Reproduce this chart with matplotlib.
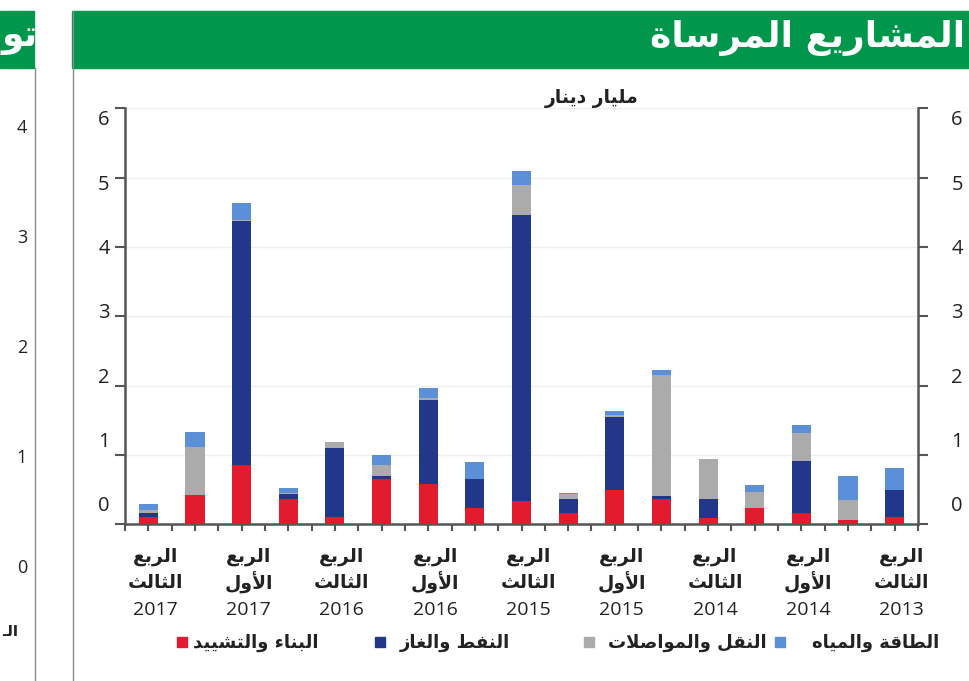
import matplotlib
matplotlib.use("Agg")
import matplotlib.pyplot as plt
from matplotlib.patches import Rectangle
from matplotlib.lines import Line2D
from matplotlib.transforms import ScaledTranslation
import numpy as np

# ---------------- data (chronological: 2013Q3 ... 2017Q3) ----------------
quarters = ["2013Q3", "2013Q4", "2014Q1", "2014Q2", "2014Q3", "2014Q4",
            "2015Q1", "2015Q2", "2015Q3", "2015Q4", "2016Q1", "2016Q2",
            "2016Q3", "2016Q4", "2017Q1", "2017Q2", "2017Q3"]
construction = [0.11, 0.06, 0.17, 0.23, 0.09, 0.36, 0.50, 0.17, 0.33, 0.24,
                0.58, 0.66, 0.10, 0.37, 0.85, 0.42, 0.10]
oil_gas = [0.39, 0.00, 0.74, 0.00, 0.27, 0.05, 1.05, 0.19, 4.13, 0.41,
           1.21, 0.03, 1.00, 0.07, 3.52, 0.00, 0.06]
transport = [0.00, 0.29, 0.40, 0.23, 0.58, 1.74, 0.02, 0.07, 0.43, 0.00,
             0.03, 0.16, 0.08, 0.01, 0.02, 0.70, 0.04]
power_water = [0.31, 0.34, 0.12, 0.11, 0.00, 0.07, 0.06, 0.02, 0.21, 0.25,
               0.14, 0.15, 0.00, 0.08, 0.24, 0.21, 0.09]

series_names = ["البناء والتشييد", "النفط والغاز", "النقل والمواصلات", "الطاقة والمياه"]
series_colors = ["#E31B2F", "#22368A", "#ABABAB", "#5B8FD8"]

tick_line1 = "الربع"
tick_line2 = ["الثالث", "الأول", "الثالث", "الأول", "الثالث", "الأول", "الثالث", "الأول", "الثالث"]
tick_years = ["2013", "2014", "2014", "2015", "2015", "2016", "2016", "2017", "2017"]
yticks = [0, 1, 2, 3, 4, 5, 6]

title = "المشاريع المرساة"
unit_label = "مليار دينار"
side_title = "تو"
side_ticks = ["4", "3", "2", "1", "0"]
side_bottom = "الـ"

# ---------------- minimal Arabic shaping (presentation forms + RTL) -------
_four = {'\u0626': 0xFE89, '\u0628': 0xFE8F, '\u062A': 0xFE95, '\u062B': 0xFE99,
         '\u062C': 0xFE9D, '\u062D': 0xFEA1, '\u062E': 0xFEA5, '\u0633': 0xFEB1,
         '\u0634': 0xFEB5, '\u0635': 0xFEB9, '\u0636': 0xFEBD, '\u0637': 0xFEC1,
         '\u0638': 0xFEC5, '\u0639': 0xFEC9, '\u063A': 0xFECD, '\u0641': 0xFED1,
         '\u0642': 0xFED5, '\u0643': 0xFED9, '\u0644': 0xFEDD, '\u0645': 0xFEE1,
         '\u0646': 0xFEE5, '\u0647': 0xFEE9, '\u064A': 0xFEF1}
_two = {'\u0622': 0xFE81, '\u0623': 0xFE83, '\u0624': 0xFE85, '\u0625': 0xFE87,
        '\u0627': 0xFE8D, '\u0629': 0xFE93, '\u062F': 0xFEA9, '\u0630': 0xFEAB,
        '\u0631': 0xFEAD, '\u0632': 0xFEAF, '\u0648': 0xFEED, '\u0649': 0xFEEF}
_one = {'\u0621': 0xFE80}
_lamalef = {'\u0622': 0xFEF5, '\u0623': 0xFEF7, '\u0625': 0xFEF9, '\u0627': 0xFEFB}
TATWEEL = '\u0640'


def _kind(tok):
    if tok.startswith('LA'):
        return 2
    if tok in _four or tok == TATWEEL:
        return 4
    if tok in _two:
        return 2
    if tok in _one:
        return 1
    return 0


def ar(text):
    toks = []
    i = 0
    while i < len(text):
        c = text[i]
        if c == '\u0644' and i + 1 < len(text) and text[i + 1] in _lamalef:
            toks.append('LA' + text[i + 1])
            i += 2
        else:
            toks.append(c)
            i += 1
    out = []
    for j, t in enumerate(toks):
        k = _kind(t)
        if k == 0:
            out.append(t)
            continue
        prev = toks[j - 1] if j > 0 else None
        nxt = toks[j + 1] if j + 1 < len(toks) else None
        jp = k >= 2 and prev is not None and _kind(prev) == 4
        jn = k == 4 and nxt is not None and _kind(nxt) >= 2
        if t == TATWEEL:
            out.append(t)
        elif t.startswith('LA'):
            out.append(chr(_lamalef[t[2]] + (1 if jp else 0)))
        elif k == 4:
            idx = 3 if (jp and jn) else 1 if jp else 2 if jn else 0
            out.append(chr(_four[t] + idx))
        elif k == 2:
            out.append(chr(_two[t] + (1 if jp else 0)))
        else:
            out.append(chr(_one[t]))
    return ''.join(reversed(out))


# ---------------- figure ----------------
W, H = 969, 681
fig = plt.figure(figsize=(W / 100, H / 100), dpi=100)
fig.patch.set_facecolor("white")

def fx(px):
    return px / W

def fy(py):
    return 1 - py / H

AR = ["DejaVu Sans"]
NUM = ["Open Sans", "DejaVu Sans"]
GREEN = "#00964B"
INK = "#222222"
AXC = "#555555"

# page decorations
fig.patches.append(Rectangle((fx(72), fy(68)), fx(969) - fx(72), fy(11) - fy(68),
                             transform=fig.transFigure, color=GREEN, zorder=0))
fig.patches.append(Rectangle((0, fy(68)), fx(34), fy(11) - fy(68),
                             transform=fig.transFigure, color=GREEN, zorder=0))
fig.lines.append(Line2D([fx(72.5), fx(72.5)], [0, fy(11)], transform=fig.transFigure,
                        color="#8a8a8a", lw=1.0))
fig.lines.append(Line2D([fx(34.5), fx(34.5)], [0, fy(68)], transform=fig.transFigure,
                        color="#8a8a8a", lw=1.0))
fig.text(fx(965), fy(38), ar(title), ha="right", va="center", color="white",
         fontsize=26, fontweight="bold", family=AR)
fig.text(fx(2), fy(38), ar(side_title), ha="left", va="center", color="white",
         fontsize=26, fontweight="bold", family=AR)
for k, s in enumerate(side_ticks):
    fig.text(fx(22), fy(128 + 110 * k), s, ha="center", va="center",
             fontsize=13, family=NUM, color=INK)
fig.text(fx(2), fy(632), ar(side_bottom), ha="left", va="center",
         fontsize=11, fontweight="bold", family=AR, color=INK)

# main axes
ax = fig.add_axes([fx(125), fy(524.3), fx(918) - fx(125), fy(108.3) - fy(524.3)])
x = np.arange(len(quarters))
bottom = np.zeros(len(quarters))
for vals, col in zip([construction, oil_gas, transport, power_water], series_colors):
    ax.bar(x, vals, width=0.41, bottom=bottom, color=col, zorder=3, linewidth=0)
    bottom += np.array(vals)

ax.set_xlim(-0.5, len(quarters) - 0.5)
ax.invert_xaxis()
ax.set_ylim(0, 6)

# y axis: ticks at values, labels drawn at the reference's (offset) heights
ax.set_yticks(yticks)
ax.set_yticklabels([])
ax.tick_params(axis="y", which="major", direction="out", length=7, width=1.5,
               color=AXC, left=True, right=True)
lab_pos = [0.294 + 0.928 * v for v in yticks]
ax.set_yticks(lab_pos, minor=True)
ax.set_yticklabels([str(v) for v in yticks], minor=True)
ax.tick_params(axis="y", which="minor", length=0, labelsize=14.5, pad=11,
               labelleft=True, labelright=True, labelcolor=INK)
shift_r = ScaledTranslation(18 / 100, 0, fig.dpi_scale_trans)
for tk in ax.yaxis.get_minor_ticks():
    tk.label1.set_family(NUM)
    tk.label2.set_family(NUM)
    tk.label2.set_transform(tk.label2.get_transform() + shift_r)

ax.grid(axis="y", which="major", color="#eeeeee", lw=1.0, zorder=0)

# x axis ticks at bar centres and boundaries
ax.set_xticks(np.arange(-0.5, len(quarters), 1.0))
ax.set_xticklabels([])
ax.set_xticks(x, minor=True)
ax.tick_params(axis="x", which="both", direction="out", length=5, width=1.5,
               color=AXC)

ax.spines["top"].set_visible(False)
for sp in ["left", "right", "bottom"]:
    ax.spines[sp].set_color(AXC)
    ax.spines[sp].set_linewidth(1.8)

# category labels (every second quarter)
lab_idx = x[::2]
for i, xi in enumerate(lab_idx):
    ax.annotate(ar(tick_line1), xy=(xi, 0), xycoords=("data", "axes fraction"),
                xytext=(5, -23.5), textcoords="offset points", ha="center", va="center",
                fontsize=13.5, fontweight="bold", family=AR, color=INK)
    ax.annotate(ar(tick_line2[i]), xy=(xi, 0), xycoords=("data", "axes fraction"),
                xytext=(5, -42), textcoords="offset points", ha="center", va="center",
                fontsize=13.5, fontweight="bold", family=AR, color=INK)
    ax.annotate(tick_years[i], xy=(xi, 0), xycoords=("data", "axes fraction"),
                xytext=(5, -62), textcoords="offset points", ha="center", va="center",
                fontsize=14, family=NUM, color=INK)

# unit label
fig.text(fx(592), fy(98), ar(unit_label), ha="center", va="center",
         fontsize=13.5, fontweight="bold", family=AR, color=INK)

# legend (manual, left to right)
leg_sq = [182, 380, 589, 780]
leg_tx = [193, 400, 608, 812]
for name, col, sx, tx in zip(series_names, series_colors, leg_sq, leg_tx):
    fig.patches.append(Rectangle((fx(sx - 5), fy(647)), fx(10), fy(637) - fy(647),
                                 transform=fig.transFigure, color=col))
    fig.text(fx(tx), fy(643), ar(name), ha="left", va="center", fontsize=13,
             fontweight="bold", family=AR, color=INK)

fig.savefig("out.png", dpi=100)
